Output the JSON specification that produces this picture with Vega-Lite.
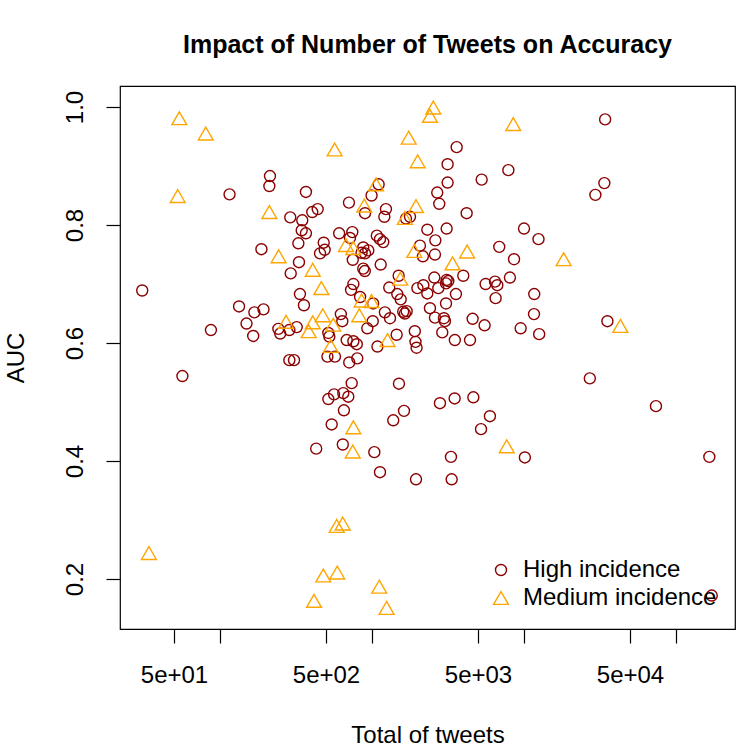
{
"$schema": "https://vega.github.io/schema/vega-lite/v6.json",
"width": 615, "height": 543,
"autosize": {"type": "none"},
"padding": {"left": 120, "top": 86, "right": 15, "bottom": 121},
"background": "white",
"title": {"text": "Impact of Number of Tweets on Accuracy", "font": "Liberation Sans", "fontSize": 25, "fontWeight": "bold", "color": "black", "anchor": "middle", "frame": "group", "offset": 28},
"config": {
  "view": {"stroke": "black", "strokeWidth": 1.2},
  "axis": {"grid": false, "domain": false, "tickSize": 14, "tickColor": "black", "tickWidth": 1.2, "labelFont": "Liberation Sans", "labelFontSize": 24, "labelColor": "black", "titleFont": "Liberation Sans", "titleFontSize": 24, "titleFontWeight": "normal", "titleColor": "black"},
  "legend": {"labelFont": "Liberation Sans", "labelFontSize": 24, "labelColor": "black", "labelLimit": 0, "symbolStrokeWidth": 1.4, "labelOffset": 10, "rowPadding": 4, "padding": 0}
},
"data": {"values": [
{"tweets":214,"auc":0.883,"group":"High incidence"},
{"tweets":212,"auc":0.866,"group":"High incidence"},
{"tweets":116,"auc":0.852,"group":"High incidence"},
{"tweets":369,"auc":0.856,"group":"High incidence"},
{"tweets":441,"auc":0.827,"group":"High incidence"},
{"tweets":406,"auc":0.822,"group":"High incidence"},
{"tweets":291,"auc":0.813,"group":"High incidence"},
{"tweets":349,"auc":0.808,"group":"High incidence"},
{"tweets":346,"auc":0.791,"group":"High incidence"},
{"tweets":369,"auc":0.786,"group":"High incidence"},
{"tweets":483,"auc":0.770,"group":"High incidence"},
{"tweets":329,"auc":0.769,"group":"High incidence"},
{"tweets":188,"auc":0.759,"group":"High incidence"},
{"tweets":457,"auc":0.752,"group":"High incidence"},
{"tweets":490,"auc":0.758,"group":"High incidence"},
{"tweets":332,"auc":0.737,"group":"High incidence"},
{"tweets":293,"auc":0.718,"group":"High incidence"},
{"tweets":30.9,"auc":0.689,"group":"High incidence"},
{"tweets":337,"auc":0.683,"group":"High incidence"},
{"tweets":358,"auc":0.664,"group":"High incidence"},
{"tweets":134,"auc":0.662,"group":"High incidence"},
{"tweets":169,"auc":0.652,"group":"High incidence"},
{"tweets":194,"auc":0.657,"group":"High incidence"},
{"tweets":150,"auc":0.633,"group":"High incidence"},
{"tweets":87.5,"auc":0.622,"group":"High incidence"},
{"tweets":243,"auc":0.624,"group":"High incidence"},
{"tweets":250,"auc":0.616,"group":"High incidence"},
{"tweets":287,"auc":0.622,"group":"High incidence"},
{"tweets":321,"auc":0.627,"group":"High incidence"},
{"tweets":166,"auc":0.612,"group":"High incidence"},
{"tweets":287,"auc":0.571,"group":"High incidence"},
{"tweets":308,"auc":0.571,"group":"High incidence"},
{"tweets":56.8,"auc":0.544,"group":"High incidence"},
{"tweets":431,"auc":0.421,"group":"High incidence"},
{"tweets":3620,"auc":0.932,"group":"High incidence"},
{"tweets":3155,"auc":0.903,"group":"High incidence"},
{"tweets":7920,"auc":0.893,"group":"High incidence"},
{"tweets":5285,"auc":0.877,"group":"High incidence"},
{"tweets":3155,"auc":0.872,"group":"High incidence"},
{"tweets":1110,"auc":0.869,"group":"High incidence"},
{"tweets":2696,"auc":0.855,"group":"High incidence"},
{"tweets":997,"auc":0.850,"group":"High incidence"},
{"tweets":2780,"auc":0.836,"group":"High incidence"},
{"tweets":708,"auc":0.838,"group":"High incidence"},
{"tweets":4210,"auc":0.820,"group":"High incidence"},
{"tweets":1240,"auc":0.827,"group":"High incidence"},
{"tweets":1210,"auc":0.814,"group":"High incidence"},
{"tweets":903,"auc":0.820,"group":"High incidence"},
{"tweets":1680,"auc":0.811,"group":"High incidence"},
{"tweets":1785,"auc":0.814,"group":"High incidence"},
{"tweets":10040,"auc":0.794,"group":"High incidence"},
{"tweets":3110,"auc":0.794,"group":"High incidence"},
{"tweets":2320,"auc":0.792,"group":"High incidence"},
{"tweets":610,"auc":0.786,"group":"High incidence"},
{"tweets":745,"auc":0.788,"group":"High incidence"},
{"tweets":719,"auc":0.778,"group":"High incidence"},
{"tweets":1080,"auc":0.782,"group":"High incidence"},
{"tweets":1133,"auc":0.776,"group":"High incidence"},
{"tweets":1191,"auc":0.771,"group":"High incidence"},
{"tweets":2620,"auc":0.774,"group":"High incidence"},
{"tweets":6900,"auc":0.763,"group":"High incidence"},
{"tweets":879,"auc":0.762,"group":"High incidence"},
{"tweets":949,"auc":0.757,"group":"High incidence"},
{"tweets":857,"auc":0.753,"group":"High incidence"},
{"tweets":903,"auc":0.752,"group":"High incidence"},
{"tweets":2075,"auc":0.765,"group":"High incidence"},
{"tweets":2170,"auc":0.747,"group":"High incidence"},
{"tweets":2605,"auc":0.750,"group":"High incidence"},
{"tweets":8630,"auc":0.742,"group":"High incidence"},
{"tweets":750,"auc":0.741,"group":"High incidence"},
{"tweets":1145,"auc":0.733,"group":"High incidence"},
{"tweets":879,"auc":0.726,"group":"High incidence"},
{"tweets":900,"auc":0.722,"group":"High incidence"},
{"tweets":757,"auc":0.700,"group":"High incidence"},
{"tweets":731,"auc":0.690,"group":"High incidence"},
{"tweets":1503,"auc":0.714,"group":"High incidence"},
{"tweets":1303,"auc":0.694,"group":"High incidence"},
{"tweets":1472,"auc":0.683,"group":"High incidence"},
{"tweets":1550,"auc":0.674,"group":"High incidence"},
{"tweets":1997,"auc":0.693,"group":"High incidence"},
{"tweets":2185,"auc":0.698,"group":"High incidence"},
{"tweets":2320,"auc":0.684,"group":"High incidence"},
{"tweets":2580,"auc":0.711,"group":"High incidence"},
{"tweets":3110,"auc":0.707,"group":"High incidence"},
{"tweets":3190,"auc":0.705,"group":"High incidence"},
{"tweets":3080,"auc":0.701,"group":"High incidence"},
{"tweets":2740,"auc":0.693,"group":"High incidence"},
{"tweets":4000,"auc":0.714,"group":"High incidence"},
{"tweets":3580,"auc":0.683,"group":"High incidence"},
{"tweets":3080,"auc":0.667,"group":"High incidence"},
{"tweets":5610,"auc":0.700,"group":"High incidence"},
{"tweets":6470,"auc":0.704,"group":"High incidence"},
{"tweets":6700,"auc":0.698,"group":"High incidence"},
{"tweets":8110,"auc":0.711,"group":"High incidence"},
{"tweets":6530,"auc":0.676,"group":"High incidence"},
{"tweets":838,"auc":0.678,"group":"High incidence"},
{"tweets":1021,"auc":0.667,"group":"High incidence"},
{"tweets":626,"auc":0.649,"group":"High incidence"},
{"tweets":640,"auc":0.637,"group":"High incidence"},
{"tweets":1220,"auc":0.652,"group":"High incidence"},
{"tweets":1318,"auc":0.642,"group":"High incidence"},
{"tweets":1610,"auc":0.653,"group":"High incidence"},
{"tweets":1697,"auc":0.654,"group":"High incidence"},
{"tweets":1652,"auc":0.650,"group":"High incidence"},
{"tweets":2415,"auc":0.659,"group":"High incidence"},
{"tweets":2605,"auc":0.643,"group":"High incidence"},
{"tweets":2985,"auc":0.642,"group":"High incidence"},
{"tweets":3030,"auc":0.637,"group":"High incidence"},
{"tweets":2910,"auc":0.618,"group":"High incidence"},
{"tweets":4610,"auc":0.641,"group":"High incidence"},
{"tweets":5525,"auc":0.630,"group":"High incidence"},
{"tweets":9540,"auc":0.625,"group":"High incidence"},
{"tweets":1015,"auc":0.637,"group":"High incidence"},
{"tweets":935,"auc":0.625,"group":"High incidence"},
{"tweets":518,"auc":0.617,"group":"High incidence"},
{"tweets":526,"auc":0.611,"group":"High incidence"},
{"tweets":684,"auc":0.605,"group":"High incidence"},
{"tweets":757,"auc":0.603,"group":"High incidence"},
{"tweets":797,"auc":0.598,"group":"High incidence"},
{"tweets":1458,"auc":0.614,"group":"High incidence"},
{"tweets":1920,"auc":0.620,"group":"High incidence"},
{"tweets":1940,"auc":0.602,"group":"High incidence"},
{"tweets":1972,"auc":0.592,"group":"High incidence"},
{"tweets":3520,"auc":0.605,"group":"High incidence"},
{"tweets":4430,"auc":0.605,"group":"High incidence"},
{"tweets":1090,"auc":0.594,"group":"High incidence"},
{"tweets":511,"auc":0.577,"group":"High incidence"},
{"tweets":573,"auc":0.577,"group":"High incidence"},
{"tweets":711,"auc":0.567,"group":"High incidence"},
{"tweets":803,"auc":0.574,"group":"High incidence"},
{"tweets":738,"auc":0.532,"group":"High incidence"},
{"tweets":1510,"auc":0.531,"group":"High incidence"},
{"tweets":518,"auc":0.505,"group":"High incidence"},
{"tweets":565,"auc":0.513,"group":"High incidence"},
{"tweets":650,"auc":0.515,"group":"High incidence"},
{"tweets":701,"auc":0.509,"group":"High incidence"},
{"tweets":2810,"auc":0.498,"group":"High incidence"},
{"tweets":3510,"auc":0.506,"group":"High incidence"},
{"tweets":4660,"auc":0.508,"group":"High incidence"},
{"tweets":656,"auc":0.486,"group":"High incidence"},
{"tweets":5990,"auc":0.476,"group":"High incidence"},
{"tweets":5235,"auc":0.454,"group":"High incidence"},
{"tweets":1630,"auc":0.485,"group":"High incidence"},
{"tweets":1385,"auc":0.469,"group":"High incidence"},
{"tweets":545,"auc":0.462,"group":"High incidence"},
{"tweets":645,"auc":0.428,"group":"High incidence"},
{"tweets":1040,"auc":0.415,"group":"High incidence"},
{"tweets":3320,"auc":0.407,"group":"High incidence"},
{"tweets":10170,"auc":0.406,"group":"High incidence"},
{"tweets":1133,"auc":0.381,"group":"High incidence"},
{"tweets":1955,"auc":0.369,"group":"High incidence"},
{"tweets":3355,"auc":0.369,"group":"High incidence"},
{"tweets":34300,"auc":0.979,"group":"High incidence"},
{"tweets":33900,"auc":0.871,"group":"High incidence"},
{"tweets":29600,"auc":0.851,"group":"High incidence"},
{"tweets":12500,"auc":0.776,"group":"High incidence"},
{"tweets":11720,"auc":0.683,"group":"High incidence"},
{"tweets":11680,"auc":0.649,"group":"High incidence"},
{"tweets":12630,"auc":0.615,"group":"High incidence"},
{"tweets":35500,"auc":0.637,"group":"High incidence"},
{"tweets":27200,"auc":0.540,"group":"High incidence"},
{"tweets":74100,"auc":0.493,"group":"High incidence"},
{"tweets":166300,"auc":0.407,"group":"High incidence"},
{"tweets":172500,"auc":0.172,"group":"High incidence"},
{"tweets":54.2,"auc":0.981,"group":"Medium incidence"},
{"tweets":80.9,"auc":0.955,"group":"Medium incidence"},
{"tweets":52.9,"auc":0.849,"group":"Medium incidence"},
{"tweets":212,"auc":0.822,"group":"Medium incidence"},
{"tweets":244,"auc":0.747,"group":"Medium incidence"},
{"tweets":409,"auc":0.724,"group":"Medium incidence"},
{"tweets":466,"auc":0.693,"group":"Medium incidence"},
{"tweets":476,"auc":0.647,"group":"Medium incidence"},
{"tweets":273,"auc":0.636,"group":"Medium incidence"},
{"tweets":409,"auc":0.635,"group":"Medium incidence"},
{"tweets":385,"auc":0.620,"group":"Medium incidence"},
{"tweets":2540,"auc":0.999,"group":"Medium incidence"},
{"tweets":2415,"auc":0.985,"group":"Medium incidence"},
{"tweets":8530,"auc":0.971,"group":"Medium incidence"},
{"tweets":1750,"auc":0.948,"group":"Medium incidence"},
{"tweets":570,"auc":0.928,"group":"Medium incidence"},
{"tweets":2005,"auc":0.908,"group":"Medium incidence"},
{"tweets":1067,"auc":0.869,"group":"Medium incidence"},
{"tweets":893,"auc":0.833,"group":"Medium incidence"},
{"tweets":1955,"auc":0.832,"group":"Medium incidence"},
{"tweets":1650,"auc":0.812,"group":"Medium incidence"},
{"tweets":4240,"auc":0.755,"group":"Medium incidence"},
{"tweets":677,"auc":0.766,"group":"Medium incidence"},
{"tweets":756,"auc":0.761,"group":"Medium incidence"},
{"tweets":1905,"auc":0.756,"group":"Medium incidence"},
{"tweets":3400,"auc":0.735,"group":"Medium incidence"},
{"tweets":1540,"auc":0.709,"group":"Medium incidence"},
{"tweets":857,"auc":0.672,"group":"Medium incidence"},
{"tweets":997,"auc":0.671,"group":"Medium incidence"},
{"tweets":828,"auc":0.647,"group":"Medium incidence"},
{"tweets":558,"auc":0.631,"group":"Medium incidence"},
{"tweets":1270,"auc":0.605,"group":"Medium incidence"},
{"tweets":537,"auc":0.595,"group":"Medium incidence"},
{"tweets":757,"auc":0.457,"group":"Medium incidence"},
{"tweets":7730,"auc":0.425,"group":"Medium incidence"},
{"tweets":750,"auc":0.416,"group":"Medium incidence"},
{"tweets":588,"auc":0.290,"group":"Medium incidence"},
{"tweets":644,"auc":0.294,"group":"Medium incidence"},
{"tweets":480,"auc":0.206,"group":"Medium incidence"},
{"tweets":593,"auc":0.211,"group":"Medium incidence"},
{"tweets":1120,"auc":0.187,"group":"Medium incidence"},
{"tweets":1252,"auc":0.151,"group":"Medium incidence"},
{"tweets":34.2,"auc":0.244,"group":"Medium incidence"},
{"tweets":417,"auc":0.163,"group":"Medium incidence"},
{"tweets":18300,"auc":0.742,"group":"Medium incidence"},
{"tweets":43200,"auc":0.629,"group":"Medium incidence"}
]},
"mark": {"type": "point", "filled": false, "strokeWidth": 1.4, "opacity": 1},
"encoding": {
  "x": {"field": "tweets", "type": "quantitative",
    "scale": {"type": "log", "domain": [22.07, 245300], "nice": false, "zero": false},
    "axis": {"values": [50, 100, 500, 1000, 5000, 10000, 50000, 100000],
      "labelExpr": "datum.value == 50 ? '5e+01' : datum.value == 500 ? '5e+02' : datum.value == 5000 ? '5e+03' : datum.value == 50000 ? '5e+04' : ''",
      "labelPadding": 20, "labelBaseline": "top", "title": "Total of tweets", "titlePadding": 36}},
  "y": {"field": "auc", "type": "quantitative",
    "scale": {"domain": [0.1153, 1.0356], "nice": false, "zero": false},
    "axis": {"values": [0.2, 0.4, 0.6, 0.8, 1.0], "format": ".1f", "labelAngle": -90, "labelAlign": "center", "labelBaseline": "alphabetic", "labelPadding": 24, "title": "AUC", "titlePadding": 35}},
  "color": {"field": "group", "type": "nominal",
    "scale": {"domain": ["High incidence", "Medium incidence"], "range": ["#8B0000", "#FFA500"]},
    "legend": {"title": null, "orient": "none", "legendX": 369, "legendY": 472}},
  "shape": {"field": "group", "type": "nominal",
    "scale": {"domain": ["High incidence", "Medium incidence"], "range": ["circle", "triangle-up"]},
    "legend": {"title": null, "orient": "none", "legendX": 369, "legendY": 472}},
  "size": {"field": "group", "type": "nominal",
    "scale": {"domain": ["High incidence", "Medium incidence"], "range": [121, 220]},
    "legend": {"title": null, "orient": "none", "legendX": 369, "legendY": 472}}
}
}
